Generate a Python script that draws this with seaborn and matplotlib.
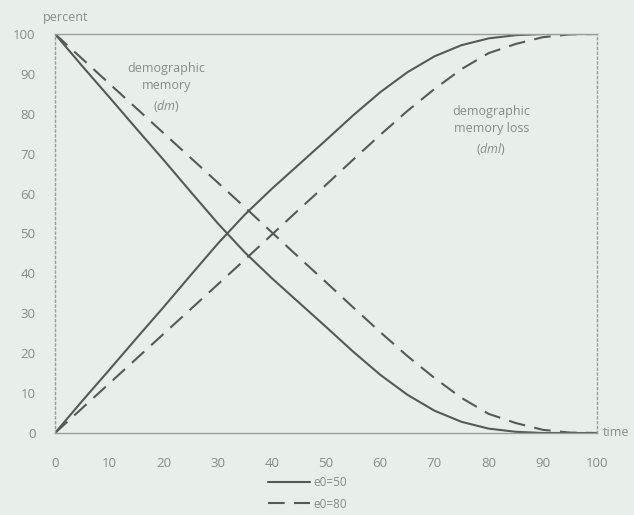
import pandas as pd
import seaborn as sns
import matplotlib.pyplot as plt
from matplotlib.lines import Line2D

time = [0, 5, 10, 15, 20, 25, 30, 35, 40, 45, 50, 55, 60, 65, 70, 75, 80, 85, 90, 95, 100]

# e0=50 (solid)
dm_50 = [100, 92, 84.2, 76.3, 68.5, 60.5, 52.6, 45.3, 38.8, 32.7, 26.6, 20.4, 14.6,
         9.6, 5.6, 2.8, 1.1, 0.3, 0, 0, 0]
dml_50 = [0, 8, 15.8, 23.7, 31.5, 39.5, 47.4, 54.7, 61.2, 67.3, 73.4, 79.6, 85.4,
          90.4, 94.4, 97.2, 98.9, 99.7, 100, 100, 100]

# e0=80 (dashed)
dm_80 = [100, 93.8, 87.6, 81.4, 75.2, 69, 62.8, 56.6, 50.3, 44, 37.8, 31.5, 25.3,
         19.3, 13.8, 8.8, 4.8, 2.5, 0.8, 0.1, 0]
dml_80 = [0, 6.2, 12.4, 18.6, 24.8, 31, 37.2, 43.4, 49.7, 56, 62.2, 68.5, 74.7,
          80.7, 86.2, 91.2, 95.2, 97.5, 99.2, 99.9, 100]

xticks = [0, 10, 20, 30, 40, 50, 60, 70, 80, 90, 100]
yticks = [0, 10, 20, 30, 40, 50, 60, 70, 80, 90, 100]
legend_labels = ["e0=50", "e0=80"]

bg = "#e8efeb"
line_col = "#555a57"
text_col = "#878c89"
dash = (0, (8, 4.5))

sns.set_style("white")
plt.rcParams["font.family"] = ["Open Sans", "DejaVu Sans"]
plt.rcParams["mathtext.fontset"] = "custom"
plt.rcParams["mathtext.it"] = "Open Sans:italic"
plt.rcParams["mathtext.rm"] = "Open Sans"

df = pd.DataFrame({"time": time, "dm_50": dm_50, "dml_50": dml_50,
                   "dm_80": dm_80, "dml_80": dml_80})

fig = plt.figure(figsize=(6.34, 5.15), dpi=100, facecolor=bg)
ax = fig.add_axes([55 / 634, 1 - 433 / 515, 542 / 634, 399 / 515])
ax.set_facecolor(bg)

for col in ["dm_50", "dml_50"]:
    sns.lineplot(data=df, x="time", y=col, ax=ax, color=line_col, lw=1.5)
for col in ["dm_80", "dml_80"]:
    sns.lineplot(data=df, x="time", y=col, ax=ax, color=line_col, lw=1.5,
                 dashes=False, linestyle=dash)

ax.set_xlim(0, 100)
ax.set_ylim(0, 100)
ax.set_xticks(xticks)
ax.set_yticks(yticks)
ax.tick_params(length=0, labelsize=9.5, labelcolor=text_col)
ax.tick_params(axis="x", pad=17)
ax.tick_params(axis="y", pad=14)
ax.set_xlabel("")
ax.set_ylabel("")

for s in ["top", "bottom"]:
    ax.spines[s].set_color("#9a9f9c")
    ax.spines[s].set_linewidth(1.0)
for s in ["left", "right"]:
    ax.spines[s].set_color("#9a9f9c")
    ax.spines[s].set_linewidth(1.0)
    ax.spines[s].set_linestyle((0, (1.5, 2)))

ax.text(-2.3, 102.5, "percent", fontsize=9, color=text_col, ha="left", va="bottom")
ax.text(101, 0, "time", fontsize=9, color=text_col, ha="left", va="center")

ax.text(20.5, 86.5, "demographic\nmemory\n($\\mathit{dm}$)", fontsize=9,
        color=text_col, ha="center", va="center", linespacing=1.45)
ax.text(80.5, 75.8, "demographic\nmemory loss\n($\\mathit{dml}$)", fontsize=9,
        color=text_col, ha="center", va="center", linespacing=1.45)

handles = [Line2D([], [], color=line_col, lw=1.5),
           Line2D([], [], color=line_col, lw=1.5, linestyle=dash)]
fig.legend(handles, legend_labels, loc="upper center", bbox_to_anchor=(0.485, 0.09),
           frameon=False, fontsize=8.5, labelcolor=text_col, handlelength=3.6,
           handletextpad=0.3, labelspacing=0.75, borderaxespad=0.2)

fig.savefig("out.png", dpi=100, facecolor=bg)
